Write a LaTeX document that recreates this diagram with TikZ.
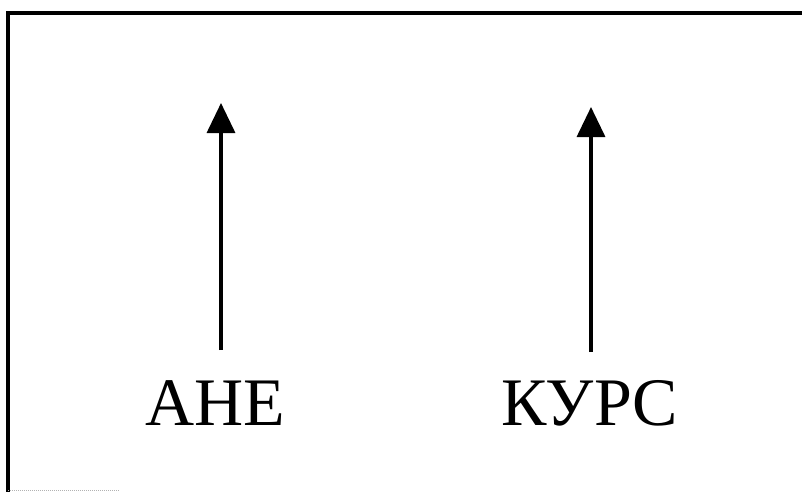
\documentclass[tikz,border=0pt]{standalone}
\usepackage{fontspec}
\setmainfont{Liberation Serif}
\usepackage{tikz}
\usetikzlibrary{
    arrows.meta,
    positioning
}
\tikzset
{
  frameline/.style={draw=black,line width=3.4pt},
  uparrow/.style={draw=black,line width=3.4pt,-{Triangle[length=30pt,width=28pt]}},
  word/.style={font=\fontsize{68}{72}\selectfont,anchor=base,inner sep=0pt}
}

\begin{document}
\begin{tikzpicture}[x=1pt,y=1pt]
        \useasboundingbox (0,0) rectangle (802,-492);

        % Draw frame (top and left edges)
        \draw[frameline] (802,-13) -- (8,-13) -- (8,-492);
        \draw[gray!60,densely dotted,line width=1pt] (8,-490) -- (120,-490);

        % Labels
        \node[word] (ane) at (215,-425) {АНЕ};
        \node[word] (kurs) at (590,-425) {КУРС};

        % Arrows
        \coordinate (ane foot) at (221,-350);
        \coordinate (ane tip) at (221,-103);
        \coordinate (kurs foot) at (591,-352);
        \coordinate (kurs tip) at (591,-107);
        \draw[uparrow] (ane foot) -- (ane tip);
        \draw[uparrow] (kurs foot) -- (kurs tip);
    \end{tikzpicture}
\end{document}
